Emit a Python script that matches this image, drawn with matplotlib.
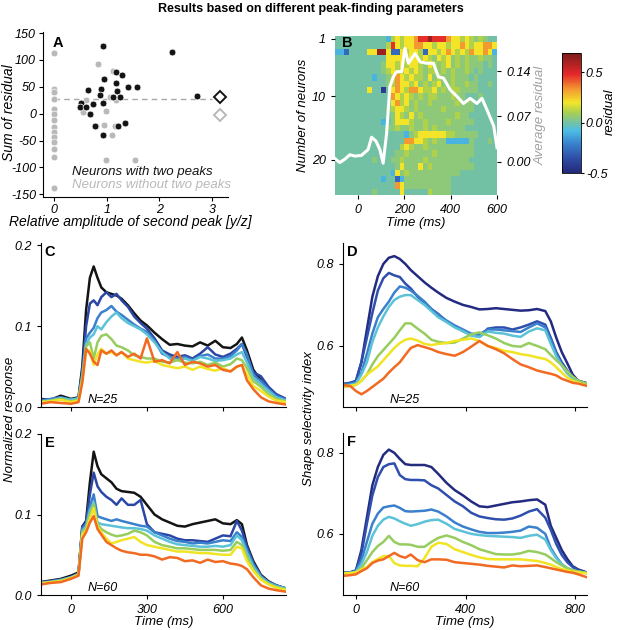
import numpy as np
import matplotlib
matplotlib.use("Agg")
import matplotlib.pyplot as plt
from matplotlib import font_manager as fm
from matplotlib.colors import LinearSegmentedColormap


def pick_italic_family(cands):
    for fam in cands:
        try:
            path = fm.findfont(fm.FontProperties(family=fam, style='italic'),
                               fallback_to_default=False)
        except Exception:
            continue
        low = path.lower()
        if 'italic' in low or 'oblique' in low:
            return fam
    return 'DejaVu Sans'


FAM = pick_italic_family(['Liberation Sans', 'Arimo', 'Roboto', 'Open Sans', 'Lato',
                          'Noto Sans', 'Inter', 'DejaVu Sans'])

plt.rcParams['font.family'] = [FAM, 'DejaVu Sans']
plt.rcParams['font.style'] = 'italic'
plt.rcParams['font.size'] = 9
plt.rcParams['axes.unicode_minus'] = False
plt.rcParams['axes.linewidth'] = 0.8
plt.rcParams['xtick.direction'] = 'out'
plt.rcParams['ytick.direction'] = 'out'
plt.rcParams['xtick.major.size'] = 3
plt.rcParams['ytick.major.size'] = 3
plt.rcParams['xtick.major.width'] = 0.8
plt.rcParams['ytick.major.width'] = 0.8
plt.rcParams['xtick.labelsize'] = 9
plt.rcParams['ytick.labelsize'] = 9

# ---------------- Panel A data ----------------
two_peak_x = [0.93, 2.23, 0.94, 1.18, 1.28, 1.17, 0.89, 0.65, 1.19, 1.40, 1.58, 1.25,
              1.12, 0.87, 0.52, 0.73, 0.93, 0.50, 0.60, 0.68, 0.77, 0.92, 1.22, 1.34, 2.72]
two_peak_y = [126, 115, 64, 77, 72, 58, 46, 44, 42, 49, 49, 31,
              31, 34, 20, 18, 20, 12, 13, -1, -23, -39, -23, -17, 33]
no_peak_x = [0, 0, 0, 0, 0, 0, 0, 0, 0, 0, 0, 0, 0, 0,
             0.84, 1.12, 0.60, 0.55, 0.99, 0.80, 0.94, 1.09, 1.15, 0.98, 1.53, 1.06, 1.18]
no_peak_y = [112, 46, 40, 28, 9, 0, -12, -25, -34, -43, -52, -66, -81, -139,
             92, 80, 26, 3, 5, -23, -21, -40, -23, -86, -86, 31, 25]
mean_x = 3.15
mean_two_peak = 31
mean_no_peak = -2
overall_mean = 28

# ---------------- Panel B data ----------------
heat_rows = [
    "...........cgygyyorrRrrroyygyg,g,..",
    "...........grygyyooyygyygyyoygyyooy",
    "ccB....yyRRyBBygyygByygyoygygoyyoyc",
    "...........yyyygyygyg,ygy,g,g,,g,,.",
    "..........,yygygyyg,yg,gy,g,g,,,.,.",
    "..........,gyggygyg,gg,g,g,,g,.,...",
    "........c..,goygygg,y,g,,g,,,.,....",
    "...........,goyygy,g,gy,,g,,g,,..,.",
    ".......y..b.yoygooyggy,g,gg,,,,....",
    "............oygyg,g,gg,,,g,,...,...",
    "............yogy,g,,g,,,,,g,,,.....",
    "...........,gyyg,g,,,,,g,,,,,,.....",
    "............,yg,y,g,,,,,,,g,,......",
    "..........c.,yyyg,,g,,,,g,,,,,.....",
    "...........,,g,,g,,g,g,,,,,,.......",
    "...............c,gyyyyyygg,,,,,....",
    "...............ooyyg,g,,ccccc,...,.",
    "..............gyg,,g,,,,,,,,,,.....",
    ".............,,g,,,,,g,,,,,,,,.....",
    "........,...,,g,,,,g,,,,,,,,,......",
    ".............,y,,,y,g,,,,,,,,,.....",
    "............cy,g,,,,,,,,,,,........",
    "..........c..Bc,,,,,,,,,,..........",
    ".............oy,,,,,,,,,,..........",
    "........,.....y.....g,,,,..........",
]
heat_levels = {'b': -0.42, 'B': -0.28, 'c': -0.10, '.': 0.0, ',': 0.05,
               'g': 0.11, 'y': 0.20, 'o': 0.33, 'r': 0.47, 'R': 0.62}
heat_ncols = 35
heat_t_start, heat_t_end = -100, 600
avg_t = [-100, -80, -58, -36, -14, 14, 43, 58, 77, 94, 108, 123, 137, 152, 166, 188,
         202, 217, 246, 268, 296, 325, 347, 369, 398, 427, 455, 484, 513, 535, 557, 586, 600]
avg_v = [0.005, -0.001, 0.004, 0.011, 0.009, 0.010, 0.019, 0.038, 0.032, 0.019, -0.002,
         0.044, 0.116, 0.131, 0.139, 0.139, 0.175, 0.152, 0.167, 0.154, 0.152, 0.152,
         0.131, 0.129, 0.111, 0.101, 0.090, 0.098, 0.090, 0.098, 0.080, 0.055, 0.022]

# ---------------- Panels C/E data ----------------
t_ce = [-120, -80, -40, 0, 30, 45, 60, 75, 90, 105, 120, 140, 160, 180, 200, 225, 250,
        275, 300, 330, 360, 390, 420, 450, 480, 510, 540, 570, 600, 630, 655, 675, 695,
        720, 750, 780, 810, 850]
c_black = [0.010, 0.009, 0.014, 0.010, 0.012, 0.050, 0.120, 0.160, 0.174, 0.160, 0.148, 0.142, 0.140, 0.138, 0.134, 0.126, 0.116, 0.107, 0.101, 0.092, 0.084, 0.077, 0.078, 0.076, 0.075, 0.080, 0.076, 0.082, 0.074, 0.073, 0.078, 0.086, 0.070, 0.046, 0.033, 0.021, 0.014, 0.009]
c_blue = [0.009, 0.009, 0.012, 0.008, 0.011, 0.045, 0.100, 0.128, 0.132, 0.126, 0.136, 0.142, 0.136, 0.140, 0.132, 0.124, 0.112, 0.104, 0.097, 0.085, 0.070, 0.065, 0.062, 0.064, 0.060, 0.066, 0.074, 0.065, 0.062, 0.066, 0.072, 0.078, 0.062, 0.043, 0.038, 0.025, 0.016, 0.010]
c_mid = [0.008, 0.010, 0.012, 0.009, 0.010, 0.040, 0.085, 0.092, 0.098, 0.110, 0.117, 0.120, 0.125, 0.118, 0.114, 0.108, 0.102, 0.097, 0.093, 0.082, 0.066, 0.062, 0.060, 0.062, 0.058, 0.063, 0.065, 0.060, 0.060, 0.063, 0.070, 0.078, 0.065, 0.040, 0.032, 0.022, 0.014, 0.009]
c_cyan = [0.007, 0.008, 0.011, 0.009, 0.011, 0.038, 0.078, 0.086, 0.090, 0.100, 0.096, 0.105, 0.112, 0.117, 0.110, 0.104, 0.100, 0.096, 0.090, 0.080, 0.068, 0.060, 0.058, 0.060, 0.057, 0.062, 0.060, 0.057, 0.058, 0.060, 0.065, 0.068, 0.055, 0.036, 0.028, 0.020, 0.012, 0.008]
c_green = [0.006, 0.008, 0.010, 0.007, 0.009, 0.035, 0.075, 0.080, 0.060, 0.080, 0.088, 0.090, 0.084, 0.076, 0.074, 0.070, 0.064, 0.062, 0.060, 0.060, 0.056, 0.055, 0.058, 0.055, 0.054, 0.056, 0.052, 0.055, 0.050, 0.053, 0.060, 0.058, 0.048, 0.032, 0.025, 0.016, 0.010, 0.007]
c_yellow = [0.006, 0.007, 0.009, 0.006, 0.008, 0.032, 0.068, 0.070, 0.052, 0.065, 0.072, 0.066, 0.068, 0.064, 0.068, 0.060, 0.058, 0.056, 0.055, 0.057, 0.052, 0.050, 0.048, 0.050, 0.046, 0.050, 0.047, 0.045, 0.048, 0.044, 0.050, 0.052, 0.040, 0.026, 0.020, 0.013, 0.008, 0.006]
c_orange = [0.004, 0.006, 0.005, 0.004, 0.006, 0.030, 0.072, 0.066, 0.056, 0.052, 0.070, 0.066, 0.070, 0.064, 0.068, 0.062, 0.066, 0.060, 0.085, 0.056, 0.058, 0.054, 0.068, 0.052, 0.056, 0.054, 0.050, 0.052, 0.046, 0.044, 0.050, 0.052, 0.033, 0.022, 0.012, 0.007, 0.005, 0.003]

e_black = [0.016, 0.018, 0.020, 0.024, 0.028, 0.085, 0.092, 0.140, 0.178, 0.160, 0.150, 0.145, 0.140, 0.132, 0.129, 0.128, 0.127, 0.122, 0.112, 0.100, 0.094, 0.090, 0.086, 0.085, 0.088, 0.090, 0.092, 0.094, 0.089, 0.088, 0.093, 0.088, 0.062, 0.042, 0.025, 0.017, 0.012, 0.008]
e_blue = [0.016, 0.017, 0.019, 0.022, 0.027, 0.085, 0.090, 0.125, 0.152, 0.135, 0.128, 0.122, 0.118, 0.112, 0.120, 0.112, 0.112, 0.118, 0.088, 0.078, 0.076, 0.074, 0.070, 0.068, 0.068, 0.067, 0.066, 0.070, 0.074, 0.073, 0.092, 0.080, 0.060, 0.040, 0.024, 0.016, 0.012, 0.008]
e_mid = [0.015, 0.017, 0.019, 0.022, 0.026, 0.082, 0.088, 0.110, 0.125, 0.098, 0.096, 0.094, 0.092, 0.094, 0.092, 0.090, 0.088, 0.086, 0.085, 0.078, 0.074, 0.070, 0.067, 0.066, 0.064, 0.065, 0.064, 0.066, 0.068, 0.067, 0.078, 0.072, 0.056, 0.038, 0.023, 0.016, 0.012, 0.008]
e_cyan = [0.015, 0.016, 0.018, 0.022, 0.026, 0.080, 0.085, 0.105, 0.115, 0.090, 0.088, 0.087, 0.086, 0.085, 0.084, 0.083, 0.083, 0.082, 0.080, 0.074, 0.070, 0.066, 0.063, 0.062, 0.061, 0.060, 0.060, 0.061, 0.060, 0.062, 0.074, 0.068, 0.052, 0.035, 0.022, 0.015, 0.011, 0.008]
e_green = [0.015, 0.016, 0.018, 0.021, 0.025, 0.078, 0.083, 0.100, 0.113, 0.088, 0.082, 0.078, 0.075, 0.073, 0.074, 0.076, 0.080, 0.078, 0.074, 0.066, 0.062, 0.060, 0.058, 0.058, 0.057, 0.056, 0.056, 0.056, 0.055, 0.056, 0.066, 0.062, 0.048, 0.032, 0.020, 0.014, 0.010, 0.007]
e_yellow = [0.014, 0.016, 0.017, 0.021, 0.025, 0.075, 0.080, 0.095, 0.108, 0.085, 0.078, 0.070, 0.064, 0.066, 0.068, 0.070, 0.072, 0.066, 0.062, 0.060, 0.058, 0.056, 0.054, 0.054, 0.053, 0.052, 0.052, 0.051, 0.050, 0.050, 0.060, 0.058, 0.042, 0.030, 0.019, 0.013, 0.009, 0.006]
e_orange = [0.013, 0.015, 0.016, 0.020, 0.024, 0.070, 0.078, 0.090, 0.098, 0.082, 0.075, 0.066, 0.062, 0.058, 0.055, 0.053, 0.052, 0.050, 0.050, 0.048, 0.044, 0.047, 0.046, 0.042, 0.043, 0.040, 0.044, 0.041, 0.042, 0.039, 0.038, 0.036, 0.032, 0.022, 0.012, 0.008, 0.006, 0.004]

# ---------------- Panels D/F data ----------------
t_df = [-50, -20, 0, 20, 40, 60, 80, 100, 120, 140, 160, 180, 200, 225, 250, 275, 300,
        330, 360, 390, 420, 450, 480, 510, 540, 570, 600, 630, 660, 690, 710, 730, 750,
        770, 790, 810, 845]
d_navy = [0.507, 0.510, 0.513, 0.560, 0.640, 0.720, 0.770, 0.800, 0.815, 0.819, 0.812, 0.800, 0.785, 0.770, 0.755, 0.742, 0.730, 0.717, 0.708, 0.700, 0.695, 0.689, 0.690, 0.692, 0.690, 0.688, 0.686, 0.687, 0.690, 0.685, 0.660, 0.620, 0.585, 0.558, 0.530, 0.515, 0.508]
d_blue = [0.505, 0.510, 0.515, 0.560, 0.620, 0.680, 0.735, 0.765, 0.778, 0.772, 0.768, 0.752, 0.740, 0.720, 0.705, 0.690, 0.678, 0.660, 0.648, 0.636, 0.628, 0.622, 0.642, 0.645, 0.645, 0.640, 0.645, 0.652, 0.660, 0.652, 0.620, 0.585, 0.560, 0.540, 0.523, 0.515, 0.508]
d_mid = [0.505, 0.508, 0.510, 0.535, 0.580, 0.630, 0.670, 0.690, 0.708, 0.730, 0.745, 0.742, 0.735, 0.722, 0.708, 0.690, 0.676, 0.662, 0.650, 0.640, 0.630, 0.628, 0.640, 0.640, 0.638, 0.636, 0.634, 0.645, 0.655, 0.645, 0.615, 0.580, 0.555, 0.535, 0.520, 0.513, 0.507]
d_cyan = [0.500, 0.505, 0.508, 0.530, 0.560, 0.610, 0.645, 0.672, 0.695, 0.712, 0.720, 0.724, 0.724, 0.712, 0.700, 0.685, 0.670, 0.658, 0.645, 0.636, 0.625, 0.622, 0.635, 0.632, 0.630, 0.625, 0.622, 0.635, 0.643, 0.638, 0.605, 0.575, 0.552, 0.533, 0.520, 0.512, 0.505]
d_green = [0.500, 0.502, 0.505, 0.515, 0.530, 0.555, 0.575, 0.590, 0.605, 0.620, 0.638, 0.655, 0.655, 0.642, 0.630, 0.615, 0.610, 0.607, 0.608, 0.618, 0.628, 0.633, 0.626, 0.618, 0.607, 0.600, 0.598, 0.607, 0.600, 0.592, 0.578, 0.565, 0.553, 0.538, 0.525, 0.515, 0.507]
d_yellow = [0.500, 0.503, 0.505, 0.515, 0.530, 0.540, 0.550, 0.565, 0.580, 0.595, 0.607, 0.615, 0.618, 0.613, 0.605, 0.602, 0.605, 0.607, 0.612, 0.615, 0.618, 0.612, 0.600, 0.595, 0.588, 0.585, 0.580, 0.577, 0.572, 0.568, 0.560, 0.548, 0.535, 0.523, 0.515, 0.510, 0.502]
d_orange = [0.505, 0.502, 0.490, 0.482, 0.490, 0.500, 0.510, 0.520, 0.535, 0.548, 0.560, 0.578, 0.595, 0.602, 0.597, 0.592, 0.585, 0.580, 0.576, 0.585, 0.598, 0.612, 0.600, 0.592, 0.582, 0.568, 0.555, 0.548, 0.540, 0.535, 0.532, 0.528, 0.520, 0.515, 0.510, 0.508, 0.502]

f_navy = [0.504, 0.505, 0.509, 0.560, 0.640, 0.720, 0.765, 0.795, 0.808, 0.800, 0.785, 0.772, 0.770, 0.770, 0.770, 0.765, 0.748, 0.726, 0.708, 0.695, 0.680, 0.668, 0.666, 0.670, 0.674, 0.678, 0.680, 0.683, 0.685, 0.672, 0.620, 0.590, 0.560, 0.538, 0.520, 0.512, 0.504]
f_blue = [0.503, 0.505, 0.510, 0.550, 0.625, 0.695, 0.740, 0.765, 0.772, 0.774, 0.745, 0.735, 0.733, 0.733, 0.732, 0.720, 0.712, 0.696, 0.680, 0.668, 0.652, 0.643, 0.639, 0.636, 0.635, 0.638, 0.645, 0.655, 0.661, 0.640, 0.610, 0.575, 0.548, 0.530, 0.518, 0.510, 0.503]
f_mid = [0.503, 0.504, 0.508, 0.535, 0.580, 0.625, 0.650, 0.665, 0.668, 0.670, 0.664, 0.656, 0.655, 0.656, 0.657, 0.660, 0.655, 0.643, 0.628, 0.618, 0.611, 0.605, 0.602, 0.602, 0.603, 0.605, 0.608, 0.618, 0.615, 0.600, 0.565, 0.543, 0.525, 0.515, 0.510, 0.507, 0.503]
f_cyan = [0.503, 0.504, 0.506, 0.525, 0.555, 0.595, 0.620, 0.635, 0.642, 0.638, 0.631, 0.625, 0.620, 0.624, 0.630, 0.634, 0.635, 0.625, 0.612, 0.606, 0.600, 0.597, 0.595, 0.594, 0.593, 0.592, 0.590, 0.595, 0.598, 0.586, 0.560, 0.540, 0.525, 0.515, 0.510, 0.507, 0.503]
f_green = [0.503, 0.503, 0.505, 0.515, 0.535, 0.555, 0.570, 0.580, 0.595, 0.580, 0.574, 0.574, 0.573, 0.568, 0.568, 0.580, 0.590, 0.596, 0.590, 0.580, 0.572, 0.562, 0.556, 0.550, 0.549, 0.549, 0.552, 0.558, 0.555, 0.549, 0.540, 0.530, 0.522, 0.515, 0.510, 0.507, 0.503]
f_yellow = [0.502, 0.503, 0.505, 0.512, 0.518, 0.530, 0.538, 0.545, 0.545, 0.528, 0.522, 0.521, 0.521, 0.520, 0.540, 0.568, 0.578, 0.575, 0.562, 0.555, 0.548, 0.542, 0.538, 0.537, 0.537, 0.537, 0.537, 0.535, 0.533, 0.528, 0.524, 0.518, 0.513, 0.510, 0.507, 0.505, 0.502]
f_orange = [0.496, 0.498, 0.500, 0.508, 0.515, 0.528, 0.534, 0.537, 0.545, 0.553, 0.545, 0.541, 0.549, 0.535, 0.530, 0.537, 0.537, 0.536, 0.530, 0.528, 0.526, 0.524, 0.521, 0.519, 0.517, 0.522, 0.520, 0.521, 0.522, 0.518, 0.515, 0.512, 0.509, 0.506, 0.504, 0.500, 0.492]

colors_ce = ['#141414', '#2b47a6', '#3a80cc', '#5cc2d8', '#96cd5e', '#f0e424', '#f26a22']
colors_df = ['#232b80', '#2e4fae', '#3a80cc', '#5cc2d8', '#96cd5e', '#f0e424', '#f26a22']

# ---------------- figure ----------------
W, H = 617, 630
fig = plt.figure(figsize=(W / 100, H / 100), dpi=100)


def ax_px(l, t, r, b):
    return fig.add_axes([l / W, 1 - b / H, (r - l) / W, (b - t) / H])


def ftext(x, y, s, **kw):
    return fig.text(x / W, 1 - y / H, s, **kw)


def style(ax):
    for s in ('top', 'right'):
        ax.spines[s].set_visible(False)


ftext(311, 9, "Results based on different peak-finding parameters",
      ha='center', va='center', fontsize=9, fontweight='bold', style='normal')

# Panel A
axA = ax_px(43, 32, 228, 197)
style(axA)
axA.scatter(no_peak_x, no_peak_y, s=24, color='#b9b9b9', edgecolors='white', linewidths=0.5, zorder=2)
axA.scatter(two_peak_x, two_peak_y, s=24, color='#141414', edgecolors='white', linewidths=0.5, zorder=3)
axA.plot([0, 3.0], [overall_mean, overall_mean], ls=(0, (4, 3)), color='#a8a8a8', lw=1, zorder=1)
axA.plot([mean_x], [mean_two_peak], marker='D', ms=6, mfc='white', mec='#141414', mew=1.4, zorder=4)
axA.plot([mean_x], [mean_no_peak], marker='D', ms=6, mfc='white', mec='#b9b9b9', mew=1.4, zorder=4)
axA.set_xlim(-0.21, 3.3)
axA.set_ylim(-155, 152)
axA.set_xticks([0, 1, 2, 3])
axA.set_yticks([150, 100, 50, 0, -50, -100, -150])
axA.tick_params(labelsize=9, pad=2)
ftext(130, 222, "Relative amplitude of second peak [y/z]", ha='center', va='center', fontsize=10)
ftext(9, 113, "Sum of residual", rotation=90, ha='center', va='center', fontsize=10)
ftext(72, 172, "Neurons with two peaks", ha='left', va='center', fontsize=9.5, color='#141414')
ftext(72, 185, "Neurons without two peaks", ha='left', va='center', fontsize=9.5, color='#b9b9b9')
ftext(58, 43, "A", ha='center', va='center', fontsize=10.5, fontweight='bold', style='normal')

# Panel B
cmap = LinearSegmentedColormap.from_list('res', [
    (0.0, '#23287a'), (0.126, '#2f4fa8'), (0.252, '#3a86d0'), (0.353, '#4dbde5'),
    (0.42, '#74c2a5'), (0.504, '#a8d050'), (0.588, '#f3e52a'), (0.697, '#f39a30'),
    (0.824, '#e5282a'), (1.0, '#7a1c1c')])
heat = np.array([[heat_levels[ch] for ch in row.ljust(heat_ncols, '.')[:heat_ncols]]
                 for row in heat_rows])
axB = ax_px(335, 36, 497, 195)
im = axB.imshow(heat, cmap=cmap, vmin=-0.5, vmax=0.69, aspect='auto',
                extent=[heat_t_start, heat_t_end, 25.5, 0.6], interpolation='nearest')
for s in axB.spines.values():
    s.set_visible(False)
axB.set_xlim(heat_t_start, heat_t_end)
axB.set_ylim(25.5, 0.6)
axB.set_xticks([0, 200, 400, 600])
axB.set_yticks([1, 10, 20])
axB.set_xlabel("Time (ms)", fontsize=9.5, labelpad=1)
axB.set_ylabel("Number of neurons", fontsize=9.5, labelpad=2)
axB2 = axB.twinx()
axB2.plot(avg_t, avg_v, color='white', lw=2.2)
axB2.set_ylim(-0.051, 0.194)
axB2.set_yticks([0.0, 0.07, 0.14])
axB2.set_yticklabels(['0.00', '0.07', '0.14'])
for s in axB2.spines.values():
    s.set_visible(False)
axB2.set_ylabel("Average residual", color='#a0a0a0', fontsize=9.5, labelpad=3)
ftext(347, 43, "B", ha='center', va='center', fontsize=10.5, fontweight='bold', style='normal')

cax = ax_px(562, 53, 581, 173)
cb = fig.colorbar(im, cax=cax)
cb.set_ticks([-0.5, 0.0, 0.5])
cb.set_ticklabels(['-0.5', '0.0', '0.5'])
cb.outline.set_linewidth(0.6)
cax.tick_params(length=2.5, width=0.8, pad=1)
ftext(610, 112, "residual", rotation=90, ha='center', va='center', fontsize=9.5)


# Panels C-F
def line_panel(rect, t, series, colors, xlim, ylim, yticks, yticklabels, xticks, show_xlabels, letter, ntext):
    ax = ax_px(*rect)
    style(ax)
    for vals, col in zip(series, colors):
        ax.plot(t, vals, color=col, lw=1.8, solid_joinstyle='round')
    ax.set_xlim(*xlim)
    ax.set_ylim(*ylim)
    ax.set_yticks(yticks)
    ax.set_yticklabels(yticklabels)
    ax.set_xticks(xticks)
    if show_xlabels:
        ax.set_xlabel("Time (ms)", fontsize=9.5, labelpad=0)
    else:
        ax.set_xticklabels([])
    l, tp, r, b = rect
    ftext(l + 9, tp + 9, letter, ha='center', va='center', fontsize=10.5,
          fontweight='bold', style='normal')
    ftext(l + 47, b - 7, ntext, ha='left', va='center', fontsize=9)
    return ax


axC = line_panel((41, 243, 286, 407), t_ce,
                 [c_black, c_blue, c_mid, c_cyan, c_green, c_yellow, c_orange], colors_ce,
                 (-118, 849), (0, 0.203), [0, 0.1, 0.2], ['0.0', '0.1', '0.2'], [0, 300, 600],
                 False, "C", "N=25")
axE = line_panel((41, 434, 286, 595), t_ce,
                 [e_black, e_blue, e_mid, e_cyan, e_green, e_yellow, e_orange], colors_ce,
                 (-118, 849), (0, 0.2), [0, 0.1, 0.2], ['0.0', '0.1', '0.2'], [0, 300, 600],
                 True, "E", "N=60")
axD = line_panel((343, 243, 587, 407), t_df,
                 [d_navy, d_blue, d_mid, d_cyan, d_green, d_yellow, d_orange], colors_df,
                 (-47, 842), (0.451, 0.851), [0.6, 0.8], ['0.6', '0.8'], [0, 400, 800],
                 False, "D", "N=25")
axF = line_panel((343, 433, 587, 595), t_df,
                 [f_navy, f_blue, f_mid, f_cyan, f_green, f_yellow, f_orange], colors_df,
                 (-47, 842), (0.449, 0.849), [0.6, 0.8], ['0.6', '0.8'], [0, 400, 800],
                 True, "F", "N=60")

ftext(10, 419, "Normalized response", rotation=90, ha='center', va='center', fontsize=9.5)
ftext(309, 419, "Shape selectivity index", rotation=90, ha='center', va='center', fontsize=9.5)

fig.savefig("out.png", dpi=100)
